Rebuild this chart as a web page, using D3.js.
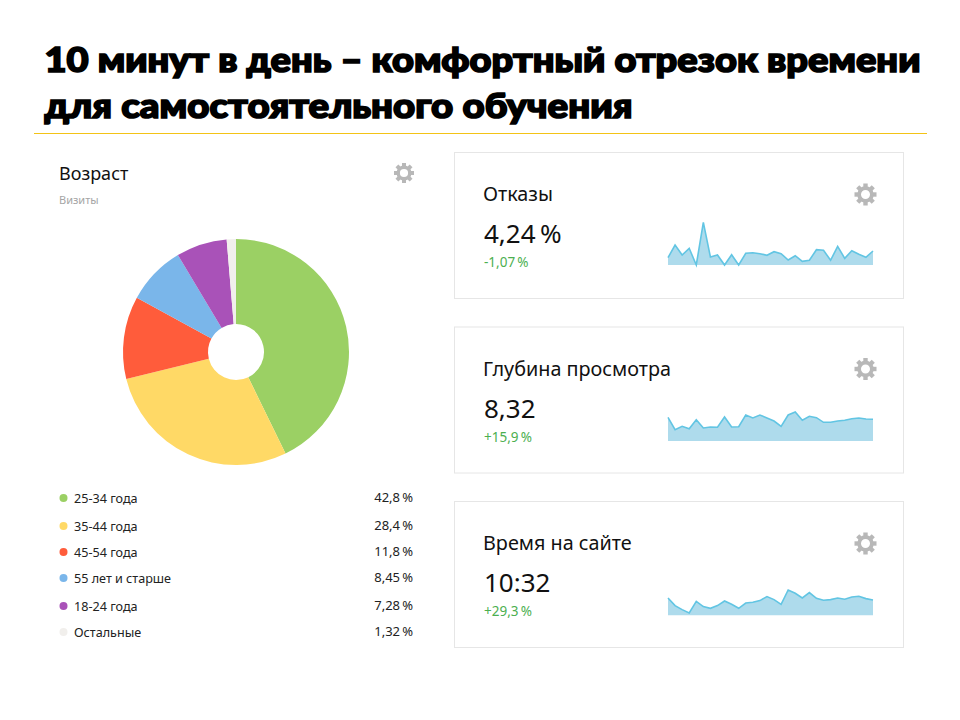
<!DOCTYPE html>
<html>
<head>
<meta charset="utf-8">
<script src="https://cdn.jsdelivr.net/npm/d3@7"></script>
<style>
	html, body { margin: 0; padding: 0; background: #fff; }
	svg { display: block; }
	text { font-family: 'Noto Sans', sans-serif; }
</style>
</head>
<body>
<svg width="960" height="720"></svg>
<script>
const titleLines = ['10 минут в день – комфортный отрезок времени', 'для самостоятельного обучения'];

const ageLabels = ['25-34 года', '35-44 года', '45-54 года', '55 лет и старше', '18-24 года', 'Остальные'];
const ageValues = [42.8, 28.4, 11.8, 8.45, 7.28, 1.32];
const ageText = ['42,8\u2009%', '28,4\u2009%', '11,8\u2009%', '8,45\u2009%', '7,28\u2009%', '1,32\u2009%'];
const ageColours = ['#9bd064', '#ffd966', '#ff5c3b', '#7ab6ea', '#a952b8', '#f1efec'];

const cardTitles = ['Отказы', 'Глубина просмотра', 'Время на сайте'];
const cardValues = ['4,24\u2009%', '8,32', '10:32'];
const cardDeltas = ['-1,07\u2009%', '+15,9\u2009%', '+29,3\u2009%'];

// sparkline heights, no axis in the original
const bounceSeries = [7.3, 20, 10, 16.7, 0, 42.7, 8, 10, 0, 10.3, 0, 11.7, 12.3, 11.3, 9.7, 13.3, 11.3, 5, 9.3, 3.7, 4.7, 15.3, 14.7, 4.7, 18.7, 6.7, 14.3, 10.7, 7.7, 14];
const depthSeries = [23.7, 11.3, 14.7, 12.3, 21.3, 13, 14, 13.7, 24, 14, 14.3, 26, 23, 26, 23, 20, 14.7, 26, 29, 20.7, 24.7, 23.3, 18.7, 18.7, 20, 20.7, 22.3, 23, 22, 21.7];
const timeSeries = [17.3, 9.7, 5.7, 2.3, 14, 8.7, 7, 9.7, 14.3, 11, 7, 12.3, 13, 14.7, 18.7, 15.7, 11, 25.3, 22, 17.3, 22.7, 17, 15, 15.7, 17.3, 16, 18.3, 19, 16.7, 15.3];
const sparkSeries = [bounceSeries, depthSeries, timeSeries];

const svg = d3.select('svg');

const drawGear = (x, y, r) => {
	const g = svg.append('g')
		.attr('transform', `translate(${x},${y})`)
		.attr('fill', '#b8b8b8');

	g.selectAll('rect')
		.data(d3.range(8))
		.enter()
		.append('rect')
		.attr('x', -r * 0.2)
		.attr('y', -r)
		.attr('width', r * 0.4)
		.attr('height', r * 0.5)
		.attr('transform', d => `rotate(${d * 45})`);

	g.append('circle')
		.attr('r', r * 0.58)
		.attr('fill', 'none')
		.attr('stroke', '#b8b8b8')
		.attr('stroke-width', r * 0.34);
};

// title
svg.selectAll('.title')
	.data(titleLines)
	.enter()
	.append('text')
	.attr('class', 'title')
	.attr('x', 44.5)
	.attr('y', (d, i) => 72 + i * 45.5)
	.attr('textLength', (d, i) => i == 0 ? 876 : 588)
	.attr('lengthAdjust', 'spacingAndGlyphs')
	.attr('font-size', 35)
	.attr('font-weight', 900)
	.attr('stroke', '#000')
	.attr('stroke-width', 1.7)
	.style('font-family', 'Lato, Inter, sans-serif')
	.text(d => d);

svg.append('line')
	.attr('x1', 34)
	.attr('x2', 927)
	.attr('y1', 133.5)
	.attr('y2', 133.5)
	.attr('stroke', '#f3c316');

// age donut
svg.append('text')
	.attr('x', 59)
	.attr('y', 180)
	.attr('font-size', 18)
	.attr('fill', '#111')
	.text('Возраст');

svg.append('text')
	.attr('x', 59)
	.attr('y', 204)
	.attr('font-size', 11)
	.attr('fill', '#a5a5a5')
	.text('Визиты');

drawGear(404, 173, 10);

const pie = d3.pie().sort(null);
const arc = d3.arc().innerRadius(28).outerRadius(113);

svg.append('g')
	.attr('transform', 'translate(236,352)')
	.selectAll('path')
	.data(pie(ageValues))
	.enter()
	.append('path')
	.attr('d', arc)
	.attr('fill', (d, i) => ageColours[i]);

const legendY = [498, 526, 552, 578, 606, 632];

const legend = svg.selectAll('.legend')
	.data(ageLabels)
	.enter()
	.append('g')
	.attr('class', 'legend')
	.attr('transform', (d, i) => `translate(0,${legendY[i]})`);

legend.append('circle')
	.attr('cx', 63.5)
	.attr('r', 4)
	.attr('fill', (d, i) => ageColours[i]);

legend.append('text')
	.attr('x', 74)
	.attr('y', 5)
	.attr('font-size', 12.6)
	.attr('fill', '#222')
	.text(d => d);

legend.append('text')
	.attr('x', 413)
	.attr('y', 3.5)
	.attr('text-anchor', 'end')
	.attr('font-size', 13)
	.attr('fill', '#222')
	.text((d, i) => ageText[i]);

// metric cards
const cardTop = [153, 327.5, 502];

const x = d3.scaleLinear()
	.domain([0, bounceSeries.length - 1])
	.range([668, 873]);

cardTitles.forEach((title, i) => {
	const top = cardTop[i];

	svg.append('rect')
		.attr('x', 454.5)
		.attr('y', top - 0.5)
		.attr('width', 449)
		.attr('height', 146)
		.attr('fill', '#fff')
		.attr('stroke', '#e6e6e6');

	svg.append('text')
		.attr('x', 483)
		.attr('y', top + 48)
		.attr('font-size', 19.8)
		.attr('fill', '#111')
		.text(title);

	svg.append('text')
		.attr('x', 484)
		.attr('y', top + 90)
		.attr('font-size', 26)
		.attr('fill', '#111')
		.text(cardValues[i]);

	svg.append('text')
		.attr('x', 484)
		.attr('y', top + 114)
		.attr('font-size', 13.5)
		.attr('fill', '#4caf50')
		.text(cardDeltas[i]);

	drawGear(865.5, top + 41.5, 11);

	const base = [265, 441, 615.3][i];
	const y = d3.scaleLinear().domain([0, 50]).range([base, base - 50]);

	svg.append('path')
		.datum(sparkSeries[i])
		.attr('d', d3.area().x((d, j) => x(j)).y0(base).y1(d => y(d)))
		.attr('fill', '#aedbec');

	svg.append('path')
		.datum(sparkSeries[i])
		.attr('d', d3.line().x((d, j) => x(j)).y(d => y(d)))
		.attr('fill', 'none')
		.attr('stroke', '#62c5e3')
		.attr('stroke-width', 1.6);
});
</script>
</body>
</html>
